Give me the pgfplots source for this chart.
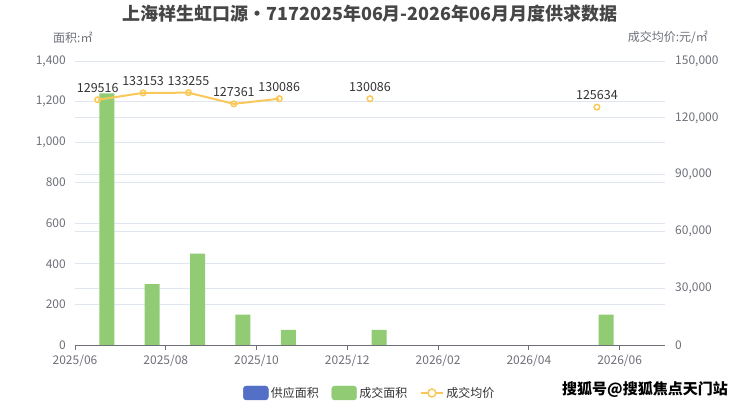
\documentclass[border=0pt]{standalone}
\usepackage{pgfplots}
\pgfplotsset{compat=1.18}
\usepackage{fontspec}
\setmainfont{Noto Sans CJK SC}
\definecolor{tick}{HTML}{6E7079}
\definecolor{gridc}{HTML}{E0E6F1}
\definecolor{sblue}{HTML}{5470C6}
\definecolor{sgreen}{HTML}{91CC75}
\definecolor{syellow}{HTML}{FAC858}
\definecolor{ttl}{HTML}{464646}
\definecolor{lbl}{HTML}{333333}
\pgfplotsset{set layers}
\begin{document}
\begin{tikzpicture}[x=1pt,y=1pt]
\begin{axis}[
  at={(75pt,61pt)}, anchor=south west, scale only axis,
  width=590pt, height=284pt,
  xmin=0, xmax=13, ymin=0, ymax=1400,
  axis y line*=left, axis x line*=bottom,
  y axis line style={draw=none},
  x axis line style={draw=tick, line width=0.8pt, -},
  xtick={0,2,4,6,8,10,12},
  xticklabels={2025/06,2025/08,2025/10,2025/12,2026/02,2026/04,2026/06},
  xtick align=outside, xtick pos=bottom,
  major tick length=5pt,
  x tick style={draw=tick, line width=0.8pt},
  y tick style={draw=none},
  ytick={0,200,...,1400},
  ymajorgrids, grid style={draw=gridc, line width=0.8pt},
  /pgf/number format/assume math mode=true,
  /pgf/number format/fixed,
  /pgf/number format/1000 sep={,},
  tick label style={font=\fontsize{12}{14}\selectfont, text=tick},
  yticklabel style={anchor=east, inner sep=0pt, xshift=-9pt},
  xticklabel style={anchor=north, inner sep=0pt, yshift=-5pt},
]
% 成交面积 (供应面积 is zero in every month and draws nothing)
\addplot[ybar, bar width=15pt, bar shift=0pt, fill=sgreen, draw=none]
  coordinates {(0.7,1240) (1.7,300) (2.7,450) (3.7,150) (4.7,75) (6.7,75) (11.7,150)};
\end{axis}
\begin{axis}[
  at={(75pt,61pt)}, anchor=south west, scale only axis,
  width=590pt, height=284pt,
  xmin=0, xmax=13, ymin=0, ymax=150000,
  axis y line*=right, axis x line=none,
  y axis line style={draw=none},
  y tick style={draw=none},
  ytick={0,30000,60000,90000,120000,150000},
  yticklabels={0,{30,000},{60,000},{90,000},{120,000},{150,000}},
  ymajorgrids, grid style={draw=gridc, line width=0.8pt},
  scaled y ticks=false,
  tick label style={font=\fontsize{12}{14}\selectfont, text=tick},
  yticklabel style={anchor=west, inner sep=0pt, xshift=10pt},
  unbounded coords=jump,
  legend columns=3,
  legend style={at={(0.5,-0.169)}, anchor=center, draw=none, fill=none,
    font=\fontsize{12}{14}\selectfont, text=lbl,
    /tikz/every even column/.append style={column sep=10pt},
    nodes={inner sep=2.5pt}},
]
\addlegendimage{legend image code/.code={\fill[sblue, rounded corners=3pt] (0pt,-7pt) rectangle (25pt,7pt);}}
\addlegendentry{供应面积}
\addlegendimage{legend image code/.code={\fill[sgreen, rounded corners=3pt] (0pt,-7pt) rectangle (25pt,7pt);}}
\addlegendentry{成交面积}
\addplot[syellow, line width=2pt, mark=o, mark size=2.8pt,
  mark options={fill=white, line width=1.5pt},
  point meta=explicit symbolic,
  nodes near coords,
  every node near coord/.append style={font=\fontsize{12.5}{14}\selectfont, text=lbl, anchor=south, yshift=3pt},
  legend image code/.code={\draw[syellow, line width=2pt] (0pt,0pt) -- (22pt,0pt); \draw[syellow, fill=white, line width=1.5pt] (11pt,0pt) circle (4pt);}]
  coordinates {(0.5,129516)[129516] (1.5,133153)[133153] (2.5,133255)[133255]
    (3.5,127361)[127361] (4.5,130086)[130086] (5.5,nan)[x] (6.5,130086)[130086]
    (7.5,nan)[x] (11.5,125634)[125634]};
\addlegendentry{成交均价}
\end{axis}
\node[anchor=center, font=\fontsize{18}{20}\selectfont\bfseries, text=ttl] at (370,392) {上海祥生虹口源•7172025年06月-2026年06月月度供求数据};
\node[anchor=west, inner sep=0pt, font=\fontsize{12}{14}\selectfont, text=tick] at (53,368) {面积:㎡};
\node[anchor=east, inner sep=0pt, font=\fontsize{12}{14}\selectfont, text=tick] at (708,369) {成交均价:元/㎡};
\node[anchor=west, inner sep=0pt, font=\fontsize{15}{17}\selectfont\bfseries, text=black] at (562,16) {搜狐号@搜狐焦点天门站};
\pgfresetboundingbox
\path[use as bounding box] (0,0) rectangle (740,406);
\end{tikzpicture}
\end{document}
